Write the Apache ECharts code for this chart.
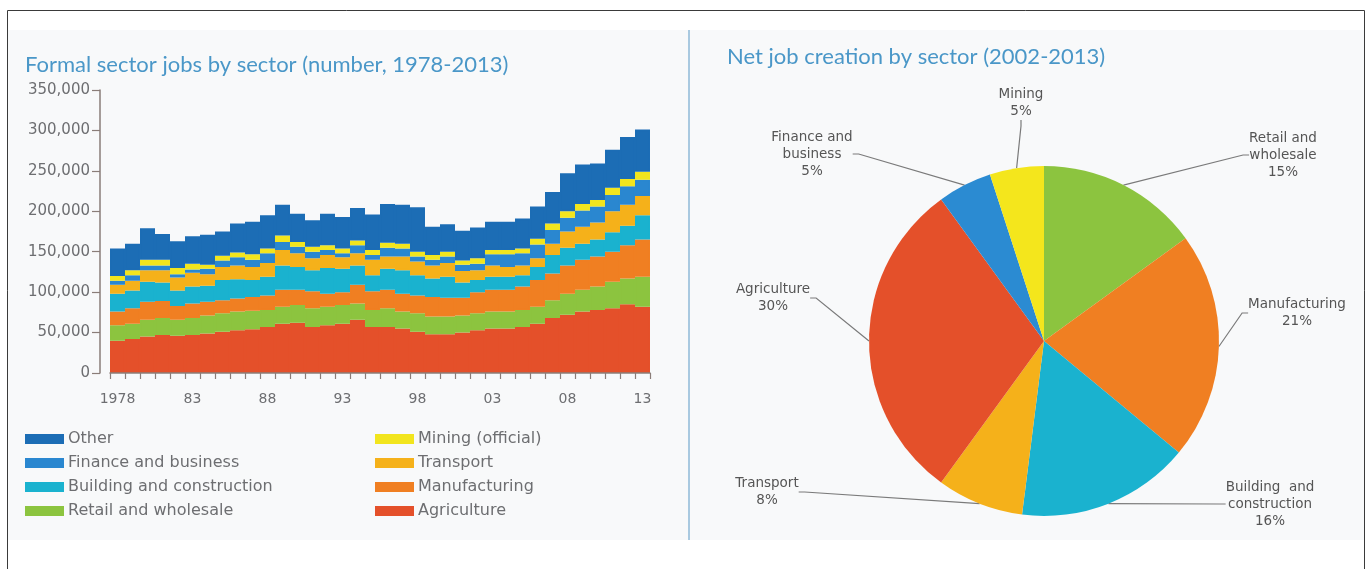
<!DOCTYPE html>
<html>
<head>
<meta charset="utf-8">
<script src="https://cdn.jsdelivr.net/npm/echarts@6/dist/echarts.min.js"></script>
<style>
  html, body { margin: 0; padding: 0; background: #ffffff; }
  #chart { width: 1372px; height: 569px; }
</style>
</head>
<body>
<div id="chart"></div>
<script>
// ---------- DATA (jobs in thousands) ----------
var years = ['1978','1979','1980','1981','1982','1983','1984','1985','1986','1987','1988','1989',
  '1990','1991','1992','1993','1994','1995','1996','1997','1998','1999','2000','2001',
  '2002','2003','2004','2005','2006','2007','2008','2009','2010','2011','2012','2013'];
var yTickValues = [0, 50, 100, 150, 200, 250, 300, 350];

var agriculture   = [40,42,45,47,46,47,49,51,53,54,57,61,62,57,59,61,66,57,57,55,51,48,48,50,53,55,55,57,61,68,72,76,78,80,85,82];
var retail        = [19,19,21,21,20,21,22,23,23,23,21,21,22,23,23,23,20,21,23,21,23,22,22,21,21,21,21,21,21,22,26,27,29,33,32,37];
var manufacturing = [17,19,22,21,17,18,17,16,16,17,18,21,19,21,16,16,23,23,23,22,22,24,23,22,26,27,27,29,33,33,35,37,37,37,41,46];
var building      = [22,22,25,23,19,21,20,25,24,21,23,30,28,26,32,29,24,20,26,29,25,23,26,19,15,16,16,14,16,23,22,20,21,24,24,30];
var transport     = [11,12,14,15,16,17,14,16,17,16,17,19,17,15,16,14,15,19,15,17,17,16,17,14,12,14,12,12,11,14,20,21,21,26,26,24];
var finance       = [5,7,6,6,4,4,7,8,10,9,12,10,8,8,6,5,10,6,11,10,6,7,8,8,8,14,16,15,17,17,17,20,20,20,23,20];
var mining        = [6,6,7,7,8,7,5,6,6,7,6,8,6,6,6,6,6,6,6,6,6,6,6,5,7,5,5,6,7,8,8,8,8,9,9,10];
var other         = [34,33,39,32,33,34,37,30,36,40,41,38,35,33,39,39,40,44,48,48,55,35,34,37,38,35,35,37,40,39,47,49,45,47,52,52];

var stackNames = ['Agriculture','Retail and wholesale','Manufacturing','Building and construction',
  'Transport','Finance and business','Mining (official)','Other'];

var pieNames  = ['Retail and wholesale','Manufacturing','Building and construction','Transport','Agriculture','Finance and business','Mining'];
var pieLabels = ['Retail and\nwholesale','Manufacturing','Building  and\nconstruction','Transport','Agriculture','Finance and\nbusiness','Mining'];
var pieValues = [15, 21, 16, 8, 30, 5, 5];

// ---------- STYLE ----------
var FONT = 'Lato, "Open Sans", sans-serif';
var FONT2 = '"DejaVu Sans", Lato, sans-serif';
var stackColors = ['#e4502a','#8cc43f','#f07f22','#1ab2cf','#f5b11a','#2a87d0','#f2e51e','#1c6db5'];
var pieColors = ['#8cc43f','#f07f22','#1ab2cf','#f5b11a','#e4502a','#2b8bd2','#f4e61c'];
var pieLabelPos = {
  'Retail and wholesale': [1283, 155],
  'Manufacturing': [1297, 313],
  'Building and construction': [1270, 504],
  'Transport': [767, 492],
  'Agriculture': [773, 298],
  'Finance and business': [812, 154],
  'Mining': [1021, 103]
};

var stackData = [agriculture, retail, manufacturing, building, transport, finance, mining, other];
var series = stackData.map(function (arr, i) {
  return {
    name: stackNames[i],
    type: 'bar',
    stack: 'total',
    data: arr,
    barCategoryGap: '0%',
    barGap: '0%',
    barWidth: '100%',
    itemStyle: { color: stackColors[i], borderColor: stackColors[i], borderWidth: 1.6 },
    emphasis: { disabled: true },
    animation: false
  };
});

series.push({
  name: 'Net job creation',
  type: 'pie',
  center: [1044, 341],
  radius: 175,
  startAngle: 90,
  clockwise: true,
  animation: false,
  data: pieNames.map(function (n, i) {
    return { name: n, value: pieValues[i], itemStyle: { color: pieColors[i] } };
  }),
  label: {
    show: true,
    position: 'outside',
    formatter: function (p) { return pieLabels[p.dataIndex] + '\n' + p.value + '%'; },
    color: '#555555',
    fontFamily: FONT2,
    fontSize: 13.5,
    lineHeight: 17,
    align: 'center'
  },
  labelLine: { show: true, length: 10, length2: 6, lineStyle: { color: '#7a7a7a', width: 1.2 } },
  labelLayout: function (params) {
    var pos = pieLabelPos[pieNames[params.dataIndex]];
    return { x: pos[0], y: pos[1], align: 'center', verticalAlign: 'middle' };
  },
  emphasis: { disabled: true }
});

var legendText = { fontSize: 16, color: '#6d6e71', fontFamily: FONT2, lineHeight: 16 };

var option = {
  backgroundColor: '#ffffff',
  animation: false,
  graphic: [
    { type: 'rect', z: -10, shape: { x: 7.5, y: 10.5, width: 1357, height: 600 },
      style: { fill: '#ffffff', stroke: '#3a3a3a', lineWidth: 1 } },
    { type: 'rect', z: -9, shape: { x: 8, y: 30, width: 1356, height: 510 },
      style: { fill: '#f8f9fa' } },
    { type: 'line', z: -8, shape: { x1: 689, y1: 30, x2: 689, y2: 540 },
      style: { stroke: '#a9c9e0', lineWidth: 2 } }
  ],
  title: [
    { text: 'Formal sector jobs by sector (number, 1978-2013)', left: 25, top: 54, padding: 0,
      textStyle: { fontSize: 22, fontWeight: 'normal', color: '#4a97c8', fontFamily: FONT } },
    { text: 'Net job creation by sector (2002-2013)', left: 727, top: 46, padding: 0,
      textStyle: { fontSize: 22, fontWeight: 'normal', color: '#4a97c8', fontFamily: FONT } }
  ],
  legend: [
    { data: ['Other','Finance and business','Building and construction','Retail and wholesale'],
      orient: 'vertical', left: 25, top: 431, padding: 0, itemGap: 8, itemWidth: 37, itemHeight: 8,
      icon: 'rect', selectedMode: false, textStyle: legendText },
    { data: ['Mining (official)','Transport','Manufacturing','Agriculture'],
      orient: 'vertical', left: 375, top: 431, padding: 0, itemGap: 8, itemWidth: 37, itemHeight: 8,
      icon: 'rect', selectedMode: false, textStyle: legendText }
  ],
  grid: { left: 110, top: 90, width: 540, height: 283, containLabel: false },
  xAxis: {
    type: 'category',
    data: years,
    boundaryGap: true,
    z: 5,
    axisLine: { show: true, lineStyle: { color: '#8a7d78', width: 1.5 } },
    axisTick: { show: true, interval: 0, alignWithLabel: false, length: 6, inside: false,
      lineStyle: { color: '#8a7d78', width: 1.2 } },
    axisLabel: {
      interval: function (idx) { return idx % 5 === 0; },
      formatter: function (v) { return v === '1978' ? v : v.slice(2); },
      color: '#6d6e71', fontSize: 14, fontFamily: FONT2, margin: 19
    },
    splitLine: { show: false }
  },
  yAxis: {
    type: 'value',
    min: 0, max: 350, interval: 50,
    offset: 10,
    axisLine: { show: true, lineStyle: { color: '#8a7d78', width: 1.5 } },
    axisTick: { show: true, length: 8, lineStyle: { color: '#8a7d78', width: 1.2 } },
    axisLabel: {
      formatter: function (v) { return yTickValues.indexOf(v) >= 0 ? (v === 0 ? '0' : v + ',000') : ''; },
      color: '#6d6e71', fontSize: 15, fontFamily: FONT2, margin: 10
    },
    splitLine: { show: false }
  },
  series: series
};

var chart = echarts.init(document.getElementById('chart'), null, { renderer: 'canvas' });
chart.setOption(option);
</script>
</body>
</html>
